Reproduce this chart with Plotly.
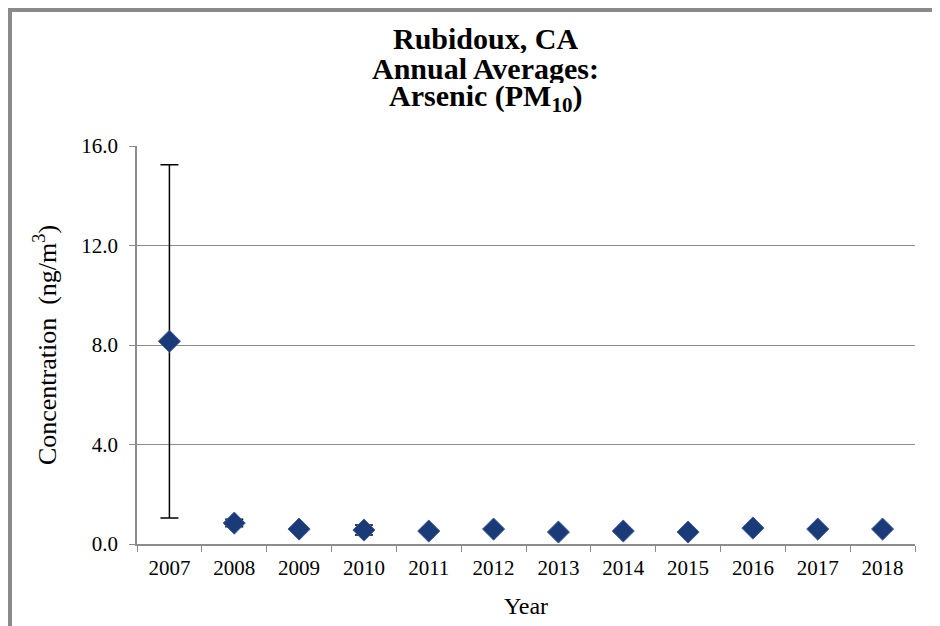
import plotly.graph_objects as go

years = ["2007", "2008", "2009", "2010", "2011", "2012", "2013", "2014", "2015", "2016", "2017", "2018"]
mean_conc = [8.15, 0.84, 0.60, 0.56, 0.52, 0.60, 0.48, 0.52, 0.48, 0.64, 0.60, 0.60]
ci_half = [7.1, 0.15, 0.0, 0.2, 0.0, 0.0, 0.0, 0.0, 0.0, 0.0, 0.0, 0.0]
y_ticks = [0, 4, 8, 12, 16]
title_lines = ["Rubidoux, CA", "Annual Averages:", "Arsenic (PM<sub>10</sub>)"]

FONT = "Liberation Serif, Times New Roman, serif"
MARKER_COLOR = "#1b3a78"
GRID_COLOR = "#8c8c8c"

# the page body adds ~8px, so the margins are set in figure pixels
L, R, T, B = 129, 33, 138, 90
W, H = 940, 626
PW, PH = W - L - R, H - T - B

fig = go.Figure()
fig.add_trace(
    go.Scatter(
        x=years, y=mean_conc, mode="markers",
        marker=dict(symbol="diamond", size=17, color=MARKER_COLOR, line=dict(color="#3d5c9c", width=1)),
        error_y=dict(type="data", array=ci_half, visible=True, color="black", thickness=1.5, width=9),
        showlegend=False,
    )
)

fig.update_layout(
    width=W, height=H,
    margin=dict(l=L, r=R, t=T, b=B),
    paper_bgcolor="white", plot_bgcolor="white",
    font=dict(family=FONT, color="black"),
    xaxis=dict(
        type="category", range=[-0.5, len(years) - 0.5], tickson="boundaries",
        ticks="outside", ticklen=6, tickcolor=GRID_COLOR, ticklabelstandoff=4,
        showline=True, linecolor=GRID_COLOR, linewidth=1.5, showgrid=False,
        tickfont=dict(size=21), title=dict(text="Year", font=dict(size=24), standoff=18),
    ),
    yaxis=dict(
        range=[0, 16], tickvals=y_ticks, tickformat=".1f", ticks="outside", ticklen=6, tickcolor=GRID_COLOR,
        ticklabelstandoff=7,
        showline=True, linecolor=GRID_COLOR, linewidth=1.5, showgrid=True, gridcolor=GRID_COLOR, gridwidth=1,
        zeroline=False, tickfont=dict(size=21),
        title=dict(text="Concentration  (ng/m<sup>3</sup>)", font=dict(size=26), standoff=17),
    ),
)

# three title lines placed one by one to match the tight line spacing
for i, line in enumerate(title_lines):
    fig.add_annotation(
        text=f"<b>{line}</b>", xref="paper", yref="paper",
        x=(477 - L) / PW, y=(H - B - (30 + 30 * i)) / PH,
        xanchor="center", yanchor="middle", height=30, valign="middle", showarrow=False,
        font=dict(family=FONT, size=30, color="black"),
    )

# grey chart frame (left and top edges visible in the crop)
fig.add_shape(
    type="rect", xref="paper", yref="paper",
    x0=(2 - L) / PW, x1=(980 - L) / PW, y0=(H - B - 650) / PH, y1=(H - B - 2) / PH,
    line=dict(color="#8a8a8a", width=4), layer="below",
)

fig.write_html("out.html")
